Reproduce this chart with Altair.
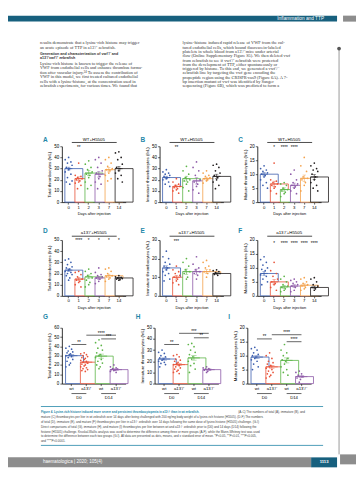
import altair as alt
import pandas as pd

# ---------------- data ----------------
days = ["0", "1", "2", "3", "7", "14"]
day_colors = ["#3d5fae", "#e9543a", "#5db548", "#8e5ba8", "#f4a24c", "#231f20"]
cmp_cats = ["wt D0", "a13⁻/⁻ D0", "wt D14", "a13⁻/⁻ D14"]
cmp_colors = ["#3d5fae", "#e9543a", "#5db548", "#8e5ba8"]

A_mean = [30, 21, 26, 25, 29, 30]
A_sem = [1.3, 1.6, 2.4, 2.6, 2.0, 2.0]
A_dots = [[40, 38, 36, 35, 33, 31, 30, 29, 27, 25, 22, 19, 18, 16],
          [35, 24, 23, 22, 21, 20, 19, 18, 17, 15, 12],
          [37, 34, 31, 29, 27, 25, 24, 22, 18, 15, 12],
          [40, 38, 35, 31, 28, 26, 23, 21, 18, 16, 12],
          [40, 38, 35, 32, 30, 29, 28, 26, 24, 21, 19],
          [45, 44, 40, 38, 34, 31, 30, 28, 26, 24, 21, 18]]
A_sig = ["", "**", "", "", "", ""]

B_mean = [22, 14, 21, 19, 21, 23]
B_sem = [1.2, 1.3, 2.2, 2.8, 1.3, 2.0]
B_dots = [[29, 27, 26, 25, 24, 23, 22, 21, 20, 18, 16, 14],
          [21, 18, 16, 15, 14, 13, 12, 11, 10, 8],
          [32, 28, 25, 22, 20, 19, 18, 16, 13, 10],
          [36, 31, 28, 24, 20, 18, 16, 14, 11, 8],
          [28, 26, 24, 23, 22, 21, 20, 19, 17],
          [34, 33, 31, 28, 26, 24, 22, 20, 18, 15, 12]]
B_sig = ["", "**", "", "", "", ""]

C_mean = [10, 6.5, 4.5, 6, 8.5, 9]
C_sem = [0.6, 1.0, 0.6, 0.8, 1.2, 0.9]
C_dots = [[13, 12, 11.5, 11, 10.5, 10, 9.5, 9, 8, 7, 6, 5],
          [14, 8, 7.5, 7, 6.5, 6, 5.5, 5, 4, 3],
          [7, 6.5, 6, 5, 4.5, 4, 3.5, 3, 2],
          [11.5, 10, 8, 7, 6.5, 6, 5.5, 5, 4, 3],
          [16, 13, 11, 9, 8.5, 8, 7, 6, 4],
          [14, 13, 12, 11.5, 11, 10, 9, 8, 7, 6, 5, 4]]
C_sig = ["", "*", "****", "****", "", ""]

D_mean = [23, 15, 17, 16, 18, 16]
D_sem = [1.2, 1.3, 1.7, 1.5, 1.4, 0.6]
D_dots = [[33, 32, 30, 28, 26, 25, 24, 23, 22, 21, 20, 19, 18, 16, 14],
          [22, 21, 19, 17, 15, 14, 13, 12, 10, 8],
          [24, 22, 20, 18, 16, 14, 12, 10, 8],
          [25, 21, 19, 18, 17, 16, 15, 13, 11],
          [25, 24, 22, 20, 18, 17, 16, 15, 13],
          [18, 17, 16.5, 16, 15.5, 15, 14.5, 14]]
D_sig = ["", "****", "*", "*", "*", "*"]

E_mean = [15, 10, 13, 13, 13, 12]
E_sem = [1.1, 1.0, 1.4, 1.4, 1.1, 0.5]
E_dots = [[24, 21, 20, 18, 17, 16, 15, 14, 13, 12, 11, 9, 8],
          [16, 14, 13, 12, 11, 10, 9, 8, 7, 6],
          [20, 18, 16, 14, 13, 12, 10, 9],
          [21, 17, 15, 14, 13, 12, 11, 9],
          [19, 18, 16, 15, 14, 13, 12, 10],
          [14, 13.5, 13, 12.5, 12, 11.5, 11]]
E_sig = ["", "***", "", "", "", ""]

F_mean = [8, 5, 3.2, 3.5, 3.8, 3]
F_sem = [0.7, 0.8, 0.5, 0.5, 0.5, 0.5]
F_dots = [[14, 13, 12, 11, 10, 9.5, 9, 8, 7.5, 7, 6, 5, 4],
          [12, 9, 8, 7, 6, 5, 4.5, 4, 3, 2],
          [7, 6, 5, 4, 3.5, 3, 2.5, 2, 1.5],
          [6, 5.5, 5, 4.5, 4, 3.5, 3, 2, 1.5],
          [6.5, 6, 5, 4.5, 4, 3.5, 3, 2.5, 2],
          [6.5, 6, 5, 4, 3.5, 3, 2.5, 2]]
F_sig = ["", "*", "****", "****", "****", "****"]

G_mean = [30, 23, 29.5, 15]
G_sem = [1.3, 1.0, 2.2, 1.0]
G_dots = [[40, 38, 37, 35, 34, 33, 32, 31, 30, 29, 28, 26, 24, 22, 20, 18],
          [33, 32, 31, 30, 29, 28, 27, 26, 25, 24, 23, 22, 21, 20, 19, 18, 17, 16, 15, 14, 13],
          [47, 44, 41, 38, 36, 33, 31, 30, 28, 26, 24, 22, 20, 18, 16],
          [20, 18, 17, 16, 15.5, 15, 14.5, 14, 13, 12]]
G_brackets = [(0, 1, "**", 42), (1, 3, "****", 52), (2, 3, "***", 48)]

H_mean = [22, 17, 23, 12.5]
H_sem = [1.0, 0.9, 2.0, 0.6]
H_dots = [[30, 28, 27, 25, 24, 23, 22, 21, 20, 19, 18, 17, 15],
          [26, 25, 24, 22, 21, 20, 19, 18, 17, 16, 15, 14, 13, 12, 11, 10, 9],
          [36, 35, 33, 30, 28, 26, 24, 22, 20, 18, 16, 13, 10],
          [15, 14, 13.5, 13, 12.5, 12, 11, 10]]
H_brackets = [(0, 1, "**", 35), (1, 3, "***", 45), (2, 3, "**", 41)]

I_mean = [9.5, 6, 8.3, 2.5]
I_sem = [0.5, 0.5, 0.9, 0.4]
I_dots = [[13, 12.5, 12, 11, 10.5, 10, 9.5, 9, 8.5, 8, 7, 6, 5],
          [11, 10, 9, 8, 7.5, 7, 6.5, 6, 5.5, 5, 4.5, 4, 3.5, 3, 2.5, 2],
          [14, 12, 11, 10, 9, 8.5, 8, 7, 6, 5, 4, 3],
          [4.5, 4, 3.5, 3, 2.5, 2, 1.5, 0.5]]
I_brackets = [(0, 1, "**", 16), (1, 3, "****", 17.5), (2, 3, "****", 15)]

header_title = "Inflammation and TTP"
left_text_1 = ["results demonstrate that a lysine-rich histone may trigger",
               "an acute episode of TTP in a13⁻/⁻ zebrafish."]
left_heading = ["Generation and characterization of vwf⁻/⁻ and",
                "a13⁻/⁻vwf⁻/⁻ zebrafish"]
left_text_2 = ["    Lysine-rich histone is known to trigger the release of",
               "VWF from endothelial cells and enhance thrombus forma-",
               "tion after vascular injury.³⁴ To assess the contribution of",
               "VWF in this model, we first treated cultured endothelial",
               "cells with a lysine-histone, at the concentration used in",
               "zebrafish experiments, for various times. We found that"]
right_text = ["lysine-histone induced rapid release of VWF from the cul-",
              "tured endothelial cells, which bound fluorescein-labeled",
              "platelets in whole blood from a13⁻/⁻ mice under arterial",
              "flow (Online Supplementary Figure S5). We then deleted vwf",
              "from zebrafish to see if vwf⁻/⁻ zebrafish were protected",
              "from the development of TTP, either spontaneously or",
              "triggered by histone. To this end, we generated a vwf⁻/⁻",
              "zebrafish line by targeting the vwf gene encoding the",
              "propeptide region using the CRISPR-cas9 (Figure 6A). A 7-",
              "bp insertion mutant of vwf was identified by Sanger",
              "sequencing (Figure 6B), which was predicted to form a"]
caption_bold = "Figure 4. Lysine-rich histone induced more severe and persistent thrombocytopenia in a13⁻/⁻ than in wt zebrafish."
caption_lines = [" (A-C) The numbers of total (A), immature (B), and",
                 "mature (C) thrombocytes per liter in wt zebrafish over 14 days after being challenged with 200 ng/mg body weight of a lysine-rich histone (H5505). (D-F) The numbers",
                 "of total (D), immature (E), and mature (F) thrombocytes per liter in a13⁻/⁻ zebrafish over 14 days following the same dose of lysine-histone (H5505) challenge. (G-I)",
                 "Direct comparisons of total (G), immature (H), and mature (I) thrombocytes per liter between wt and a13⁻/⁻ zebrafish prior to (D0) and 14 days (D14) following the",
                 "histone (H5505) challenge. Kruskal-Wallis analysis was used to determine the difference among three or more groups (A-F), while the Mann-Whitney test was used",
                 "to determine the difference between each two groups (G-I). All data are presented as dots, means, and ± standard error of mean. *P<0.05, **P<0.01, ***P<0.005,",
                 "and ****P<0.0001."]
footer_text = "haematologica | 2020; 105(4)"
page_number = "1113"

# ---------------- styling ----------------
jitter = [3, 0, 5, 2, 6, 1, 4]
W, H = 64, 56
SANS = "Liberation Sans"
SERIF = "Liberation Serif"
TEAL = "#2386a8"
DARK_TEAL = "#17607e"
GREY = "#8d8d8d"
BODY = 4.4
one = pd.DataFrame({"a": [0]})


def blank(w, h):
    return alt.Chart(one).mark_point(size=0, opacity=0).encode(
        x=alt.value(0), y=alt.value(0)).properties(width=w, height=h)


def panel(letter, letter_y, cats, colors, means, sems, dots, ymax, ystep, ytitle,
          title=None, sig=None, sig_y=None, brackets=None, groups=False,
          xtitle=None, pi=0.25, po=0.3):
    n = len(cats)
    step = W / (n - pi + 2 * po)
    bw = step * (1 - pi)
    bars_df = pd.DataFrame({"cat": cats, "mean": means,
                            "lo": [m - s for m, s in zip(means, sems)],
                            "hi": [m + s for m, s in zip(means, sems)]})
    rows = []
    for c, vals in zip(cats, dots):
        for i, v in enumerate(vals):
            rows.append({"cat": c, "val": v, "k": jitter[i % len(jitter)]})
    dots_df = pd.DataFrame(rows)

    xs = alt.Scale(domain=cats, paddingInner=pi, paddingOuter=po)
    axkw = dict(title=xtitle, labelAngle=0, titleFontSize=3.9, labelFontSize=4.3)
    if groups:
        axkw["labelExpr"] = "split(datum.value, ' ')[0]"
    x = alt.X("cat:N", sort=cats, scale=xs, axis=alt.Axis(**axkw))
    ys = alt.Scale(domain=[0, ymax], nice=False)
    yaxis = alt.Axis(values=list(range(0, ymax + 1, ystep)), title=ytitle, grid=False)
    cs = alt.Scale(domain=cats, range=colors)
    col = alt.Color("cat:N", scale=cs, legend=None)

    base = alt.Chart(bars_df)
    layers = [
        base.mark_bar(fill="white", strokeWidth=0.8).encode(
            x=x, y=alt.Y("mean:Q", scale=ys, axis=yaxis),
            stroke=alt.Stroke("cat:N", scale=cs, legend=None)),
        alt.Chart(dots_df).mark_circle(size=3, opacity=1).encode(
            x=x, xOffset=alt.XOffset("k:N", scale=alt.Scale(domain=list(range(7)), paddingOuter=0.3)),
            y=alt.Y("val:Q", scale=ys, axis=yaxis), color=col),
        base.mark_rule(strokeWidth=0.6).encode(
            x=x, y=alt.Y("lo:Q", scale=ys, axis=yaxis), y2="hi:Q", color=col),
        base.mark_tick(thickness=0.6, size=bw * 0.45).encode(
            x=x, y=alt.Y("hi:Q", scale=ys, axis=yaxis), color=col),
        base.mark_tick(thickness=0.6, size=bw * 0.45).encode(
            x=x, y=alt.Y("lo:Q", scale=ys, axis=yaxis), color=col),
        base.mark_tick(thickness=1.1, size=bw).encode(
            x=x, y=alt.Y("mean:Q", scale=ys, axis=yaxis), color=col),
    ]
    if sig is not None:
        sig_df = pd.DataFrame({"cat": [c for c, s in zip(cats, sig) if s],
                               "label": [s for s in sig if s],
                               "y": [sig_y for s in sig if s]})
        layers.append(alt.Chart(sig_df).mark_text(fontSize=4.5, font=SANS, baseline="middle").encode(
            x=x, y=alt.Y("y:Q", scale=ys, axis=yaxis), text="label:N"))
    if brackets is not None:
        for (i1, i2, lab, yv) in brackets:
            bdf = pd.DataFrame({"c1": [cats[i1]], "c2": [cats[i2]], "y": [yv], "label": [lab]})
            layers.append(alt.Chart(bdf).mark_rule(strokeWidth=0.6, color="black").encode(
                x=alt.X("c1:N", sort=cats, scale=xs, axis=alt.Axis(**axkw)), x2="c2:N",
                y=alt.Y("y:Q", scale=ys, axis=yaxis)))
            layers.append(alt.Chart(bdf).mark_text(fontSize=4.5, font=SANS, baseline="bottom",
                                                   dx=(i2 - i1) * step / 2, dy=0.5).encode(
                x=alt.X("c1:N", sort=cats, scale=xs, axis=alt.Axis(**axkw)),
                y=alt.Y("y:Q", scale=ys, axis=yaxis), text="label:N"))
    if groups:
        for (i1, i2, lab) in [(0, 1, "D0"), (2, 3, "D14")]:
            gdf = pd.DataFrame({"c1": [cats[i1]], "c2": [cats[i2]], "label": [lab]})
            layers.append(alt.Chart(gdf).mark_rule(strokeWidth=0.6, color="black").encode(
                x=alt.X("c1:N", sort=cats, scale=xs, axis=alt.Axis(**axkw)), x2="c2:N",
                y=alt.value(H + 10)))
            layers.append(alt.Chart(gdf).mark_text(fontSize=4.3, font=SANS, baseline="middle",
                                                   dx=(i2 - i1) * step / 2).encode(
                x=alt.X("c1:N", sort=cats, scale=xs, axis=alt.Axis(**axkw)),
                y=alt.value(H + 14.5), text="label:N"))
    if title is not None:
        layers.append(alt.Chart(one).mark_text(fontSize=4.4, font=SANS, baseline="bottom").encode(
            x=alt.value(W / 2), y=alt.value(-4.6), text=alt.value(title)))
        layers.append(alt.Chart(one).mark_rule(strokeWidth=0.7, color="black").encode(
            x=alt.value(10), x2=alt.value(55), y=alt.value(-3.8)))
    layers.append(alt.Chart(one).mark_text(fontSize=6.5, font=SANS, fontWeight="bold", color=TEAL,
                                           align="left", baseline="middle").encode(
        x=alt.value(-19), y=alt.value(letter_y), text=alt.value(letter)))
    return alt.layer(*layers).properties(width=W, height=H)


TOT = "Total thrombocytes (/nL)"
IMM = "Immature thrombocytes (/nL)"
MAT = "Mature thrombocytes (/nL)"
XT = "Days after injection"

row1 = alt.hconcat(
    blank(28, 1),
    panel("A", -6, days, day_colors, A_mean, A_sem, A_dots, 50, 10, TOT, "WT+H5505", A_sig, 48, xtitle=XT),
    panel("B", -6, days, day_colors, B_mean, B_sem, B_dots, 50, 10, IMM, "WT+H5505", B_sig, 48, xtitle=XT),
    panel("C", -6, days, day_colors, C_mean, C_sem, C_dots, 20, 5, MAT, "WT+H5505", C_sig, 19.3, xtitle=XT),
    spacing=7)
row2 = alt.hconcat(
    blank(28, 1),
    panel("D", -9, days, day_colors, D_mean, D_sem, D_dots, 50, 10, TOT, "a13⁻/⁻+H5505", D_sig, 49, xtitle=XT),
    panel("E", -9, days, day_colors, E_mean, E_sem, E_dots, 30, 10, IMM, "a13⁻/⁻+H5505", E_sig, 29, xtitle=XT),
    panel("F", -9, days, day_colors, F_mean, F_sem, F_dots, 20, 5, MAT, "a13⁻/⁻+H5505", F_sig, 18.6, xtitle=XT),
    spacing=7)
row3 = alt.hconcat(
    blank(28, 1),
    panel("G", -11, cmp_cats, cmp_colors, G_mean, G_sem, G_dots, 60, 10, TOT, brackets=G_brackets, groups=True, pi=0.2, po=0.25),
    panel("H", -11, cmp_cats, cmp_colors, H_mean, H_sem, H_dots, 50, 10, IMM, brackets=H_brackets, groups=True, pi=0.2, po=0.25),
    panel("I", -11, cmp_cats, cmp_colors, I_mean, I_sem, I_dots, 20, 5, MAT, brackets=I_brackets, groups=True, pi=0.2, po=0.25),
    spacing=7)

# ---------------- page header ----------------
hdr = [alt.Chart(one).mark_rect(color=DARK_TEAL).encode(
           x=alt.value(0), x2=alt.value(330), y=alt.value(7), y2=alt.value(13)),
       alt.Chart(one).mark_text(color="white", fontSize=4.8, font=SANS, align="right", baseline="middle").encode(
           x=alt.value(317), y=alt.value(10.2), text=alt.value(header_title))]
for i, t in enumerate(left_text_1):
    hdr.append(alt.Chart(one).mark_text(fontSize=BODY, font=SERIF, color="#333", align="left", baseline="middle").encode(
        x=alt.value(32), y=alt.value(34.7 + 4.5 * i), text=alt.value(t)))
for i, t in enumerate(left_heading):
    hdr.append(alt.Chart(one).mark_text(fontSize=3.7, font=SANS, fontWeight="bold", color="#333", align="left", baseline="middle").encode(
        x=alt.value(32), y=alt.value(45.3 + 4.4 * i), text=alt.value(t)))
for i, t in enumerate(left_text_2):
    hdr.append(alt.Chart(one).mark_text(fontSize=BODY, font=SERIF, color="#333", align="left", baseline="middle").encode(
        x=alt.value(32), y=alt.value(55.3 + 4.5 * i), text=alt.value(t)))
for i, t in enumerate(right_text):
    hdr.append(alt.Chart(one).mark_text(fontSize=BODY, font=SERIF, color="#333", align="left", baseline="middle").encode(
        x=alt.value(175), y=alt.value(34.7 + 4.33 * i), text=alt.value(t)))
header = alt.layer(*hdr).properties(width=330, height=128)

# ---------------- caption + footer ----------------
cap = [alt.Chart(one).mark_rule(color=TEAL, strokeWidth=0.8).encode(
           x=alt.value(33), x2=alt.value(316), y=alt.value(6)),
       alt.Chart(one).mark_rule(color=TEAL, strokeWidth=0.8).encode(
           x=alt.value(33), x2=alt.value(316), y=alt.value(45)),
       alt.Chart(one).mark_text(fontSize=2.95, font=SANS, fontWeight="bold", color=TEAL, align="left", baseline="middle").encode(
           x=alt.value(33), y=alt.value(12), text=alt.value(caption_bold))]
for i, t in enumerate(caption_lines):
    cap.append(alt.Chart(one).mark_text(fontSize=3.05, font=SANS, color="#444", align="left", baseline="middle").encode(
        x=alt.value(231 if i == 0 else 33), y=alt.value(12 + 4.8 * i), text=alt.value(t)))
cap += [alt.Chart(one).mark_rect(color=GREY).encode(
            x=alt.value(0), x2=alt.value(304), y=alt.value(57), y2=alt.value(67)),
        alt.Chart(one).mark_rect(color=DARK_TEAL).encode(
            x=alt.value(304), x2=alt.value(330), y=alt.value(57), y2=alt.value(67)),
        alt.Chart(one).mark_text(fontSize=4.6, font=SANS, color="white", align="left", baseline="middle").encode(
            x=alt.value(35), y=alt.value(62), text=alt.value(footer_text)),
        alt.Chart(one).mark_text(fontSize=4.2, font=SANS, fontWeight="bold", color="white", align="center", baseline="middle").encode(
            x=alt.value(317), y=alt.value(62), text=alt.value(page_number))]
caption = alt.layer(*cap).properties(width=330, height=67)

# ---------------- right margin ----------------
right = alt.layer(
    alt.Chart(one).mark_rect(color=GREY).encode(x=alt.value(5), x2=alt.value(18), y=alt.value(7), y2=alt.value(13)),
    alt.Chart(one).mark_rule(color="#9a9a9a", strokeWidth=1).encode(x=alt.value(1), y=alt.value(40), y2=alt.value(447)),
    alt.Chart(one).mark_circle(color="#555", size=14, opacity=1).encode(x=alt.value(1), y=alt.value(40)),
    alt.Chart(one).mark_rect(color=GREY).encode(x=alt.value(2), x2=alt.value(18), y=alt.value(447), y2=alt.value(457)),
).properties(width=18, height=457)

left = alt.vconcat(header, row1, blank(1, 12), row2, blank(1, 4), row3, caption, spacing=0)

chart = alt.hconcat(left, right, spacing=0).properties(
    padding={"left": 0, "top": 0, "right": 0, "bottom": 0}
).configure_view(stroke=None).configure_axis(
    labelFont=SANS, titleFont=SANS, labelFontSize=4.5, titleFontSize=4.3,
    titleFontWeight="normal", domainColor="black", tickColor="black", labelColor="black",
    titleColor="black", tickSize=2, labelPadding=1, titlePadding=2, domainWidth=0.8, tickWidth=0.6
).configure_concat(spacing=0)

chart.save("out.html", embed_options={"renderer": "svg", "actions": False})
